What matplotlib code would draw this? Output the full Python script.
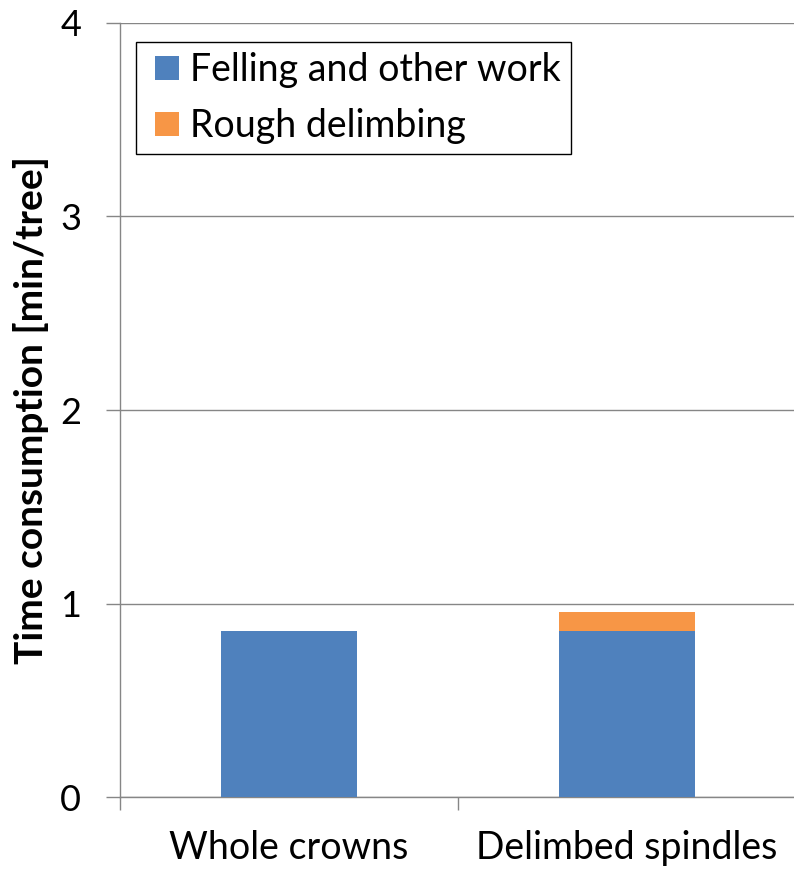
import matplotlib
matplotlib.use("Agg")
import matplotlib.pyplot as plt
from matplotlib.patches import Rectangle
from matplotlib.legend_handler import HandlerPatch
from matplotlib.container import BarContainer
import numpy as np

categories = ["Whole crowns", "Delimbed spindles"]
felling = [0.86, 0.86]
delimbing = [0.0, 0.095]
series_names = ["Felling and other work", "Rough delimbing"]
yticks = [0, 1, 2, 3, 4]

plt.rcParams['font.family'] = ['Lato', 'DejaVu Sans']
fig = plt.figure(figsize=(7.94, 8.71), dpi=100)
ax = fig.add_axes([120/794, 1-797/871, 676/794, (797-23)/871])

x = np.arange(len(categories))
w = 0.405
b1 = ax.bar(x, felling, w, color="#4F81BD", label=series_names[0], zorder=3)
b2 = ax.bar(x, delimbing, w, bottom=felling, color="#F79646", label=series_names[1], zorder=3)

ax.set_xlim(-0.5, 1.5)
ax.set_ylim(0, 4)
ax.set_yticks(yticks)
ax.set_yticklabels([str(t) for t in yticks])
ax.yaxis.grid(True, color="#868686", linewidth=1, zorder=0)
ax.set_axisbelow(True)
for s in ["top", "right"]:
    ax.spines[s].set_visible(False)
for s in ["left", "bottom"]:
    ax.spines[s].set_color("#868686")
    ax.spines[s].set_linewidth(1)

ax.set_xticks(x)
ax.set_xticklabels(categories)
ax.tick_params(axis='x', length=0, labelsize=27, pad=24)
ax.set_xticks([-0.5, 0.5, 1.5], minor=True)
ax.tick_params(axis='x', which='minor', length=9, color="#868686", width=1)
ax.tick_params(axis='y', length=10, color="#868686", width=1, labelsize=26, pad=18)

ax.set_ylabel("Time consumption [min/tree]", fontsize=28, fontweight='bold')
ax.yaxis.set_label_coords((49-120)/676, 0.5)


def square_patch(legend, orig_handle, xdescent, ydescent, width, height, fontsize):
    return Rectangle((-xdescent + width - height, -ydescent), height, height)


def copy_style(legend_handle, orig_handle):
    legend_handle.update_from(orig_handle.patches[0])


leg = ax.legend(loc='upper left', bbox_to_anchor=(136/794, 1-42/871),
                bbox_transform=fig.transFigure, fontsize=27,
                frameon=True, fancybox=False, edgecolor="black", framealpha=1,
                handlelength=0.88, handleheight=0.62, handletextpad=0.3, borderpad=0.27,
                labelspacing=0.54, borderaxespad=0,
                handler_map={BarContainer: HandlerPatch(patch_func=square_patch,
                                                        update_func=copy_style)})
leg.get_frame().set_linewidth(1)

fig.savefig("out.png", dpi=100)
